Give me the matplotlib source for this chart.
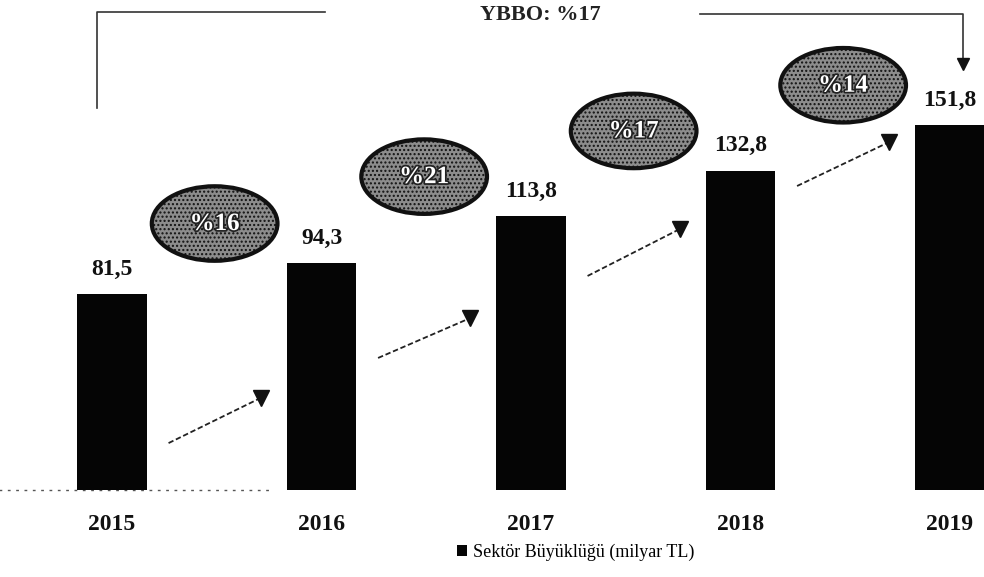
# -*- coding: utf-8 -*-
"""
Sektor buyuklugu (milyar TL), 2015-2019, yillik buyume balonlari ile
"""

import matplotlib
matplotlib.use("Agg")
import numpy as np
from matplotlib import pyplot as plt
from matplotlib.patches import Ellipse
import matplotlib.patheffects as pe

# data
years = ['2015', '2016', '2017', '2018', '2019']
values = [81.5, 94.3, 113.8, 132.8, 151.8]
value_labels = ['81,5', '94,3', '113,8', '132,8', '151,8']
growth_labels = ['%16', '%21', '%17', '%14']
cagr_label = 'YBBO: %17'
legend_label = 'Sektör Büyüklüğü (milyar TL)'

# arrows between bars (start height, end height) in value units
arrow_y = [(19.5, 38.3), (54.9, 71.5), (89.0, 108.5), (126.4, 144.7)]

serif = ['Liberation Serif', 'DejaVu Serif']
plt.rcParams['font.family'] = serif

W, H = 984, 577
fig = plt.figure(figsize=(W / 100, H / 100), dpi=100)
ax = fig.add_axes([0, 0, 1, 1])

# pixel layout: bar i centred at 112 + 209.5*i, baseline at y=490, 2.405 px per unit
step, x0, base, ppu = 209.5, 112, 490, 2.405
ax.set_xlim(-x0 / step, (W - x0) / step)
ax.set_ylim(-(H - base) / ppu, base / ppu)
ax.axis('off')

x = np.arange(len(years))
ax.bar(x, values, width=0.334, color='#050505', label=legend_label, zorder=3)

# dotted baseline on the left
ax.plot([-0.54, 0.76], [0, 0], color='#555555', lw=1, ls=(0, (2, 4)), zorder=1)

for xi, v, lab in zip(x, values, value_labels):
    ax.text(xi, v + 6, lab, ha='center', va='bottom', fontsize=17,
            fontweight='bold', color='#111111')

for xi, yr in zip(x, years):
    ax.text(xi, -14.5, yr, ha='center', va='center', fontsize=17,
            fontweight='bold', color='#111111')

# growth bubbles
for i, g in enumerate(growth_labels):
    cx, cy = i + 0.49, values[i + 1] + 16.5
    e = Ellipse((cx, cy), 0.6, 31, facecolor='#8c8c8c', edgecolor='#111111',
                lw=3, hatch='....', zorder=4)
    ax.add_patch(e)
    ax.text(cx, cy, g, ha='center', va='center', fontsize=18, fontweight='bold',
            color='white', zorder=5,
            path_effects=[pe.withStroke(linewidth=2.5, foreground='#222222')])

# dashed growth arrows
for i, (ys, ye) in enumerate(arrow_y):
    xs, xe = i + 0.27, i + 0.71
    ax.plot([xs, xe], [ys, ye], color='#222222', lw=1.3, ls=(0, (3, 1.5)), zorder=2)
    ax.plot(xe, ye, marker='v', markersize=11, color='#111111', zorder=2)

# CAGR bracket across the top
def px(xp, yp):
    return xp / W, 1 - yp / H

tr = ax.transAxes
lx, ly = zip(px(97, 108), px(97, 12), px(325, 12))
ax.plot(lx, ly, color='#333333', lw=1.2, transform=tr)
rx, ry = zip(px(700, 14), px(963, 14), px(963, 58))
ax.plot(rx, ry, color='#333333', lw=1.2, transform=tr)
ax.plot(*px(963, 64), marker='v', markersize=9, color='#111111', transform=tr)
ax.text(*px(540, 15), cagr_label, transform=tr, ha='center', va='center',
        fontsize=16, fontweight='bold', color='#222222')

leg = ax.legend(loc='lower center', bbox_to_anchor=(0.585, 0.0), frameon=False,
                handlelength=0.55, handleheight=0.55, handletextpad=0.35,
                prop={'family': serif, 'size': 13})

fig.savefig('out.png', dpi=100)
